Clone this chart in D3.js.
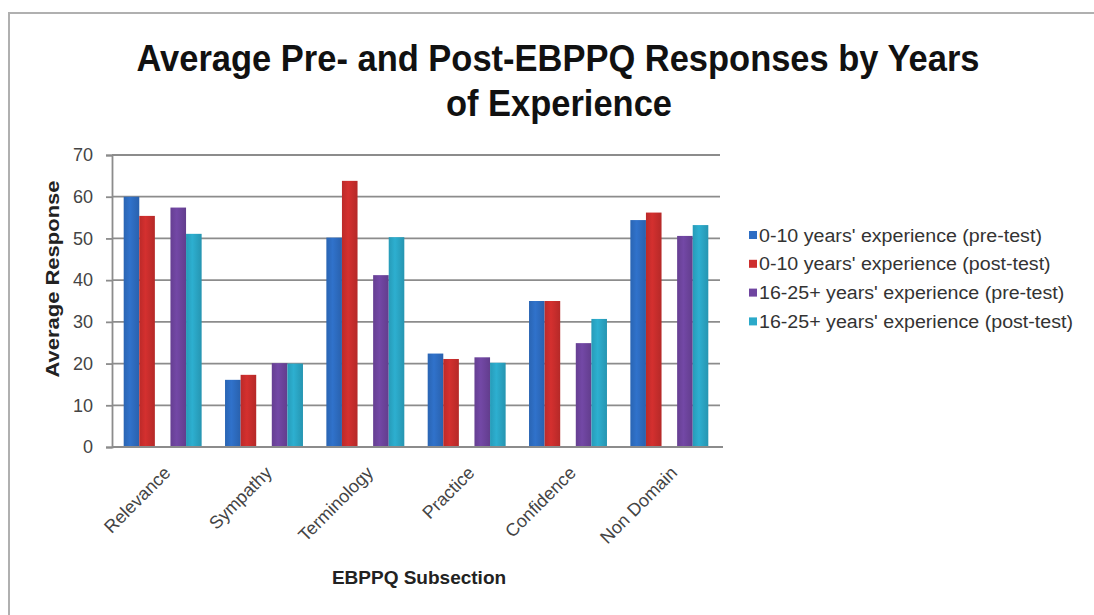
<!DOCTYPE html>
<html>
<head>
<meta charset="utf-8">
<script src="https://cdn.jsdelivr.net/npm/d3@7"></script>
<style>
  body { margin: 0; background: #fff; overflow: hidden; }
  text { font-family: "Liberation Sans", Arial, sans-serif; }
</style>
</head>
<body>
<div id="plot"></div>
<script>
// Chart data
var categories = ["Relevance", "Sympathy", "Terminology", "Practice", "Confidence", "Non Domain"];
var seriesNames = [
    "0-10 years' experience (pre-test)",
    "0-10 years' experience (post-test)",
    "16-25+ years' experience (pre-test)",
    "16-25+ years' experience (post-test)"
];
var pre010  = [60, 16.1, 50.2, 22.4, 35, 54.4];
var post010 = [55.4, 17.3, 63.8, 21.1, 35, 56.2];
var pre1625 = [57.4, 20.1, 41.2, 21.5, 24.9, 50.6];
var post1625 = [51.1, 20, 50.3, 20.2, 30.7, 53.2];
var yTicks = [0, 10, 20, 30, 40, 50, 60, 70];

var seriesValues = [pre010, post010, pre1625, post1625];
var colors = ["#2e6ec4", "#cd2e2d", "#6f45a0", "#2ba9c9"];
var slots = [0, 1, 3, 4]; // the empty slot in the middle leaves the gap

var W = 1094, H = 615;
var plot = { left: 112, right: 720, top: 155, bottom: 447 };

var svg = d3.select("#plot").append("svg")
    .attr("width", W)
    .attr("height", H);

// gradients for the slightly shaded bars
var defs = svg.append("defs");
colors.forEach(function (c, i) {
    var g = defs.append("linearGradient").attr("id", "grad" + i)
        .attr("x1", "0%").attr("x2", "100%").attr("y1", "0%").attr("y2", "0%");
    g.append("stop").attr("offset", "0%").attr("stop-color", d3.color(c).darker(0.25));
    g.append("stop").attr("offset", "40%").attr("stop-color", d3.color(c).brighter(0.1));
    g.append("stop").attr("offset", "100%").attr("stop-color", d3.color(c).darker(0.35));
});

// outer frame
svg.append("rect")
    .attr("x", 9).attr("y", 13)
    .attr("width", W + 20).attr("height", H + 20)
    .attr("fill", "none")
    .attr("stroke", "#b0b0b0")
    .attr("stroke-width", 2);

// Title
svg.append("text")
    .attr("x", 558).attr("y", 71)
    .attr("text-anchor", "middle")
    .attr("font-weight", "bold")
    .attr("font-size", 37)
    .attr("fill", "#111")
    .attr("textLength", 843)
    .attr("lengthAdjust", "spacingAndGlyphs")
    .text("Average Pre- and Post-EBPPQ Responses by Years");
svg.append("text")
    .attr("x", 559).attr("y", 116)
    .attr("text-anchor", "middle")
    .attr("font-weight", "bold")
    .attr("font-size", 37)
    .attr("fill", "#111")
    .attr("textLength", 226)
    .attr("lengthAdjust", "spacingAndGlyphs")
    .text("of Experience");

// Scales
var x0 = d3.scaleBand().domain(categories).range([plot.left, plot.right]);
var bw = x0.bandwidth();
var gap = bw * 1.5 / 6.5;
var x1 = d3.scaleBand().domain([0, 1, 2, 3, 4]).range([gap / 2, bw - gap / 2]);
var y = d3.scaleLinear().domain([0, 70]).range([plot.bottom, plot.top]);

// Gridlines
svg.append("g").selectAll("line")
    .data(yTicks.slice(1))
    .enter().append("line")
    .attr("x1", plot.left).attr("x2", plot.right)
    .attr("y1", function (d) { return y(d); })
    .attr("y2", function (d) { return y(d); })
    .attr("stroke", "#8c8c8c")
    .attr("stroke-width", 1.8);

// Y axis
var yAxis = svg.append("g")
    .attr("transform", "translate(" + plot.left + ",0)")
    .call(d3.axisLeft(y).tickValues(yTicks).tickSize(6).tickPadding(13));
yAxis.select(".domain").attr("stroke", "#8c8c8c").attr("stroke-width", 1.8);
yAxis.selectAll(".tick line").attr("stroke", "#8c8c8c").attr("stroke-width", 1.8);
yAxis.selectAll(".tick text")
    .attr("font-size", 18)
    .attr("fill", "#444")
    .style("font-family", "\"Liberation Sans\", sans-serif");

// Bars
var groups = svg.append("g").selectAll("g")
    .data(seriesValues)
    .enter().append("g")
    .attr("fill", function (d, i) { return "url(#grad" + i + ")"; });

groups.each(function (vals, si) {
    d3.select(this).selectAll("rect")
        .data(vals)
        .enter().append("rect")
        .attr("x", function (d, ci) { return x0(categories[ci]) + x1(slots[si]); })
        .attr("y", function (d) { return y(d); })
        .attr("width", x1.bandwidth())
        .attr("height", function (d) { return y(0) - y(d); });
});

// X axis line
svg.append("line")
    .attr("x1", plot.left).attr("x2", plot.right + 3)
    .attr("y1", plot.bottom).attr("y2", plot.bottom)
    .attr("stroke", "#8c8c8c").attr("stroke-width", 1.8);

// X labels
svg.append("g").selectAll("text")
    .data(categories)
    .enter().append("text")
    .attr("transform", function (d) {
        return "translate(" + (x0(d) + bw / 2 + 9) + "," + (plot.bottom + 27) + ") rotate(-45)";
    })
    .attr("text-anchor", "end")
    .attr("font-size", 18)
    .attr("fill", "#444")
    .text(function (d) { return d; });

// Axis titles
svg.append("text")
    .attr("transform", "translate(59,279) rotate(-90)")
    .attr("text-anchor", "middle")
    .attr("font-weight", "bold")
    .attr("font-size", 19)
    .attr("fill", "#222")
    .attr("textLength", 197)
    .attr("lengthAdjust", "spacingAndGlyphs")
    .text("Average Response");

svg.append("text")
    .attr("x", 419).attr("y", 584)
    .attr("text-anchor", "middle")
    .attr("font-weight", "bold")
    .attr("font-size", 19)
    .attr("fill", "#222")
    .text("EBPPQ Subsection");

// Legend
var legend = svg.append("g").selectAll("g")
    .data(seriesNames)
    .enter().append("g")
    .attr("transform", function (d, i) { return "translate(749," + (235 + i * 28.8) + ")"; });

legend.append("rect")
    .attr("x", 0).attr("y", -4)
    .attr("width", 8).attr("height", 8)
    .attr("fill", function (d, i) { return colors[i]; });

legend.append("text")
    .attr("x", 10).attr("y", 6.5)
    .attr("font-size", 18)
    .attr("fill", "#333")
    .text(function (d) { return d; })
    .each(function () {
        // the source text is set a little wider than Liberation Sans
        var w = this.getComputedTextLength();
        d3.select(this).attr("textLength", w * 1.09).attr("lengthAdjust", "spacingAndGlyphs");
    });
</script>
</body>
</html>
